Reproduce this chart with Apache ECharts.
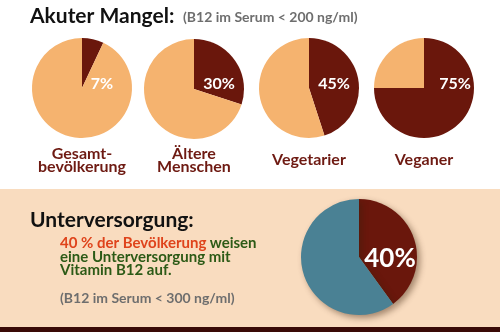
<!DOCTYPE html>
<html>
<head>
<meta charset="utf-8">
<script src="https://cdn.jsdelivr.net/npm/echarts@6/dist/echarts.min.js"></script>
<style>
  html, body { margin: 0; padding: 0; background: #ffffff; }
  #chart { width: 500px; height: 332px; }
</style>
</head>
<body>
<div id="chart"></div>
<script>
// Akuter Mangel: share with B12 < 200 ng/ml per group
const groups = ['Gesamt-\nbevölkerung', 'Ältere\nMenschen', 'Vegetarier', 'Veganer'];
const deficiency = [7, 30, 45, 75];
// Unterversorgung: share with B12 < 300 ng/ml
const undersupply = 40;

const FONT = 'Lato';
const DARK = '#6a170c';
const LIGHT = '#f5b36f';
const TEAL = '#4a8194';
const LABEL_RED = '#6e1a12';

const smallCenters = [[82, 88], [194, 89], [309, 88], [424, 88]];
const smallRadius = 50;
const bigCenter = [359, 257];
const bigRadius = 58;

const chart = echarts.init(document.getElementById('chart'), null, { renderer: 'canvas' });

const series = deficiency.map((v, i) => ({
  type: 'pie',
  center: smallCenters[i],
  radius: smallRadius,
  startAngle: 90,
  clockwise: true,
  silent: true,
  animation: false,
  label: { show: false },
  labelLine: { show: false },
  itemStyle: { borderWidth: 0 },
  data: [
    { value: v, name: 'betroffen', itemStyle: { color: DARK } },
    { value: 100 - v, name: 'übrige', itemStyle: { color: LIGHT } }
  ]
}));

series.push({
  type: 'pie',
  center: bigCenter,
  radius: bigRadius,
  startAngle: 90,
  clockwise: true,
  silent: true,
  animation: false,
  label: { show: false },
  labelLine: { show: false },
  itemStyle: {
    borderWidth: 0,
    shadowBlur: 6,
    shadowOffsetX: 3,
    shadowOffsetY: 3,
    shadowColor: 'rgba(60,30,10,0.45)'
  },
  data: [
    { value: undersupply, name: 'unterversorgt', itemStyle: { color: DARK } },
    { value: 100 - undersupply, name: 'ausreichend', itemStyle: { color: TEAL } }
  ]
});

// percentage labels inside the small pies
const pctOffsets = [20, 25, 25, 31];
const graphics = [
  // lower beige panel and dark footer band
  { type: 'rect', z: -10, shape: { x: 0, y: 189, width: 500, height: 138 }, style: { fill: '#f9dcbf' } },
  { type: 'rect', z: -10, shape: { x: 0, y: 327, width: 500, height: 5 }, style: { fill: '#3a0a06' } },
  // headings
  { type: 'text', x: 30, y: 16, style: { text: 'Akuter Mangel:', font: 'bold 21px ' + FONT, fill: '#111', textVerticalAlign: 'middle' } },
  { type: 'text', x: 183, y: 17, style: { text: '(B12 im Serum < 200 ng/ml)', font: 'bold 14px ' + FONT, fill: '#6e6e6e', textVerticalAlign: 'middle' } },
  { type: 'text', x: 30, y: 220, style: { text: 'Unterversorgung:', font: 'bold 21px ' + FONT, fill: '#111', textVerticalAlign: 'middle' } },
  {
    type: 'text', x: 60, y: 243,
    style: {
      text: '{r|' + undersupply + ' % der Bevölkerung} {g|weisen}',
      textVerticalAlign: 'middle',
      rich: {
        r: { font: 'bold 15px ' + FONT, fill: '#df431b' },
        g: { font: 'bold 15px ' + FONT, fill: '#2c5a16' }
      }
    }
  },
  { type: 'text', x: 60, y: 257, style: { text: 'eine Unterversorgung mit', font: 'bold 15px ' + FONT, fill: '#2c5a16', textVerticalAlign: 'middle' } },
  { type: 'text', x: 60, y: 270, style: { text: 'Vitamin B12 auf.', font: 'bold 15px ' + FONT, fill: '#2c5a16', textVerticalAlign: 'middle' } },
  { type: 'text', x: 60, y: 298, style: { text: '(B12 im Serum < 300 ng/ml)', font: 'bold 14px ' + FONT, fill: '#6e6e6e', textVerticalAlign: 'middle' } },
  // big pie label
  { type: 'text', z: 10, x: bigCenter[0] + 31, y: 259, style: { text: undersupply + '%', font: 'bold 26px ' + FONT, fill: '#ffffff', textAlign: 'center', textVerticalAlign: 'middle' } }
];

deficiency.forEach((v, i) => {
  graphics.push({
    type: 'text', z: 10,
    x: smallCenters[i][0] + pctOffsets[i], y: 84,
    style: { text: v + '%', font: 'bold 16px ' + FONT, fill: '#ffffff', textAlign: 'center', textVerticalAlign: 'middle' }
  });
  const lines = groups[i].split('\n');
  const startY = lines.length === 1 ? 160 : 154;
  lines.forEach((ln, k) => {
    graphics.push({
      type: 'text',
      x: smallCenters[i][0], y: startY + k * 13,
      style: { text: ln, font: 'bold 16px ' + FONT, fill: LABEL_RED, textAlign: 'center', textVerticalAlign: 'middle' }
    });
  });
});

chart.setOption({
  backgroundColor: '#ffffff',
  animation: false,
  series: series,
  graphic: graphics
});
</script>
</body>
</html>
